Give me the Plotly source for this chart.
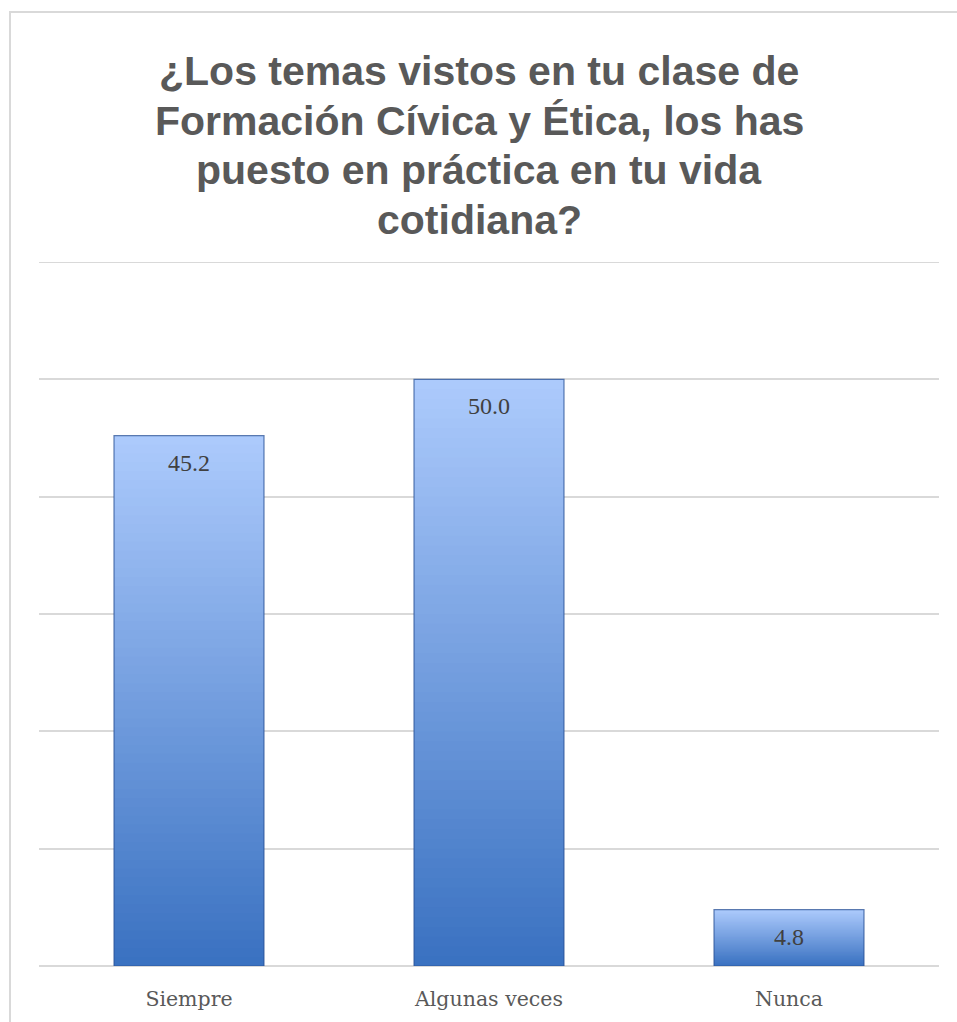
import plotly.graph_objects as go

categories = ["Siempre", "Algunas veces", "Nunca"]
values = [45.2, 50.0, 4.8]
y_max = 60
y_step = 10
title_lines = [
    "¿Los temas vistos en tu clase de",
    "Formación Cívica y Ética, los has",
    "puesto en práctica en tu vida",
    "cotidiana?",
]

top_rgb = (172, 202, 252)
bottom_rgb = (56, 112, 192)
N = 60

fig = go.Figure()

# gradient: draw tallest (lightest) first, then progressively shorter/darker
for k in range(N):
    frac = (N - k) / N
    t = frac
    c = tuple(round(bottom_rgb[j] + (top_rgb[j] - bottom_rgb[j]) * t) for j in range(3))
    fig.add_trace(go.Bar(
        x=categories,
        y=[v * frac for v in values],
        marker=dict(color="rgb(%d,%d,%d)" % c, line=dict(width=0)),
        hoverinfo="skip",
        showlegend=False,
    ))

# outline
fig.add_trace(go.Bar(
    x=categories,
    y=values,
    marker=dict(color="rgba(0,0,0,0)", line=dict(color="rgba(40,80,150,0.75)", width=1.2)),
    hoverinfo="skip",
    showlegend=False,
))

for cat, v in zip(categories, values):
    fig.add_annotation(
        x=cat, y=v, text="%.1f" % v, showarrow=False,
        yanchor="middle", yshift=-27,
        font=dict(family="Liberation Serif", size=24, color="#404040"),
    )

# title lines (Excel-like tighter line spacing), centred on the chart frame
for i, line in enumerate(title_lines):
    fig.add_annotation(
        xref="paper", yref="paper", x=(479 - 39) / 900, xanchor="center",
        y=(966 - (71 + 49.5 * i)) / 704, yanchor="middle",
        text="<b>%s</b>" % line, showarrow=False,
        font=dict(family="Liberation Sans", size=41, color="#595959"),
    )

fig.update_layout(
    width=957, height=1022,
    barmode="overlay",
    bargap=0.5,
    plot_bgcolor="white",
    paper_bgcolor="white",
    margin=dict(l=39, r=18, t=262, b=56),
    xaxis=dict(
        showgrid=False, zeroline=False, showline=False,
        ticks="outside", ticklen=14, tickcolor="rgba(0,0,0,0)",
        tickfont=dict(family="DejaVu Serif", size=20.5, color="#595959"),
    ),
    yaxis=dict(
        range=[0, y_max], dtick=y_step, showticklabels=False,
        showgrid=True, gridcolor="#d9d9d9", gridwidth=2,
        zeroline=True, zerolinecolor="#d9d9d9", zerolinewidth=2,
        showline=False,
    ),
    shapes=[
        dict(
            type="rect", xref="paper", yref="paper",
            x0=(10 - 39) / 900, x1=(990 - 39) / 900,
            y0=(966 - 1040) / 704, y1=(966 - 12) / 704,
            line=dict(color="#d9d9d9", width=2), fillcolor="rgba(0,0,0,0)", layer="below",
        ),
        dict(
            type="line", xref="paper", yref="y",
            x0=0, x1=1, y0=y_max, y1=y_max,
            line=dict(color="#d9d9d9", width=2), layer="below",
        ),
    ],
)

fig.write_html(
    "out.html",
    config={"displayModeBar": False},
    post_script="document.body.style.margin='0';document.body.style.overflow='hidden';",
)
